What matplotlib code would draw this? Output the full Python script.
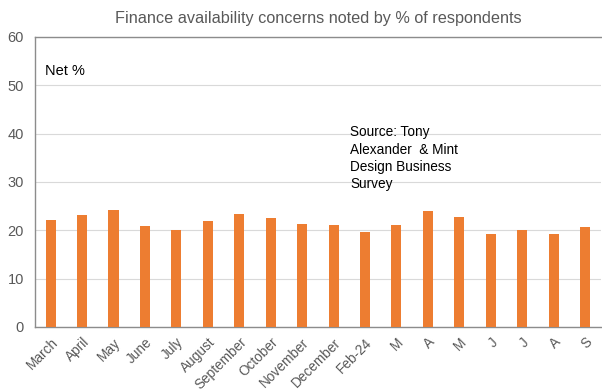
import matplotlib.pyplot as plt
import numpy as np

plt.rcParams['font.family'] = ['Liberation Sans', 'DejaVu Sans']

months = ["March", "April", "May", "June", "July", "August", "September",
          "October", "November", "December", "Feb-24", "M", "A", "M", "J",
          "J", "A", "S"]
net_pct = [22.2, 23.2, 24.1, 20.8, 20.0, 21.9, 23.3, 22.5, 21.3,
           21.0, 19.6, 21.1, 23.9, 22.7, 19.3, 20.1, 19.2, 20.6]

fig = plt.figure(figsize=(6.02, 3.92), dpi=100)
ax = fig.add_axes([0.058, 0.166, 0.94, 0.74])

x = np.arange(len(months))
ax.bar(x, net_pct, width=0.32, color="#ed7d31", zorder=3)

ax.set_xlim(-0.5, len(months) - 0.5)
ax.set_ylim(0, 60)
ax.set_yticks(range(0, 61, 10))
ax.yaxis.grid(True, color="#d9d9d9", linewidth=0.8, zorder=0)
ax.set_xticks(x)
ax.set_xticklabels(months, rotation=45, ha="right", rotation_mode="anchor")
ax.tick_params(axis="both", length=0, colors="#595959")
ax.tick_params(axis="x", pad=6, labelsize=9.8)
ax.tick_params(axis="y", pad=8, labelsize=10.5)

for side in ["left", "bottom", "top"]:
    ax.spines[side].set_color("#8c8c8c")
    ax.spines[side].set_linewidth(1.0)
ax.spines["right"].set_visible(False)

ax.set_title("Finance availability concerns noted by % of respondents",
             fontsize=11.7, color="#595959", pad=10)
ax.text(0.017, 0.87, "Net %", transform=ax.transAxes, fontsize=10.5,
        color="black")
ax.text(0.557, 0.695, "Source: Tony\nAlexander  & Mint\nDesign Business\nSurvey",
        transform=ax.transAxes, fontsize=9.8, color="black", va="top",
        linespacing=1.3)

fig.savefig("out.png", dpi=100)
